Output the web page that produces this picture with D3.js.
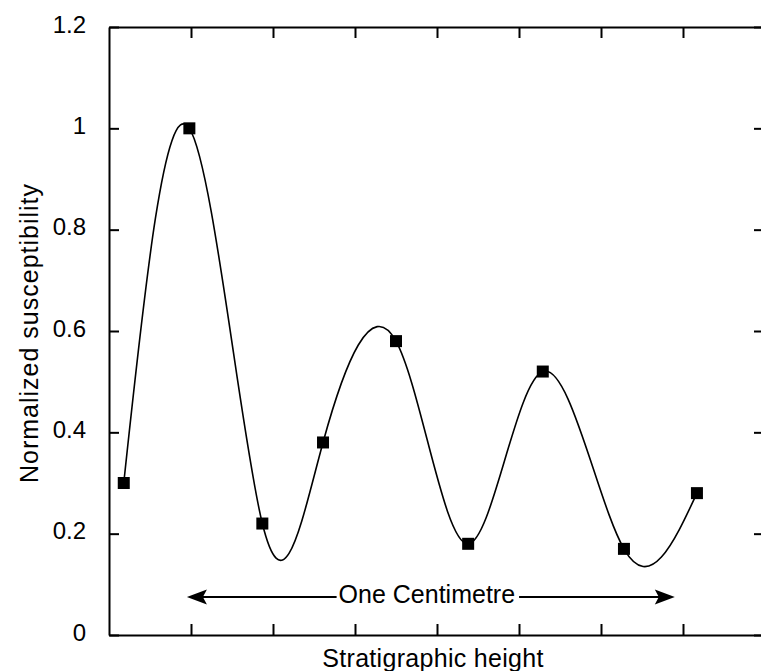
<!DOCTYPE html>
<html>
<head>
<meta charset="utf-8">
<script src="https://cdn.jsdelivr.net/npm/d3@7"></script>
<style>
  body { margin: 0; background: #fff; }
  svg text { font-family: 'Liberation Sans', Arial, sans-serif; fill: #000; }
</style>
</head>
<body>
<div id="chart"></div>
<script>
// values
const heights = [0.18, 0.98, 1.87, 2.61, 3.5, 4.38, 5.29, 6.28, 7.17];
const susceptibility = [0.3, 1.0, 0.22, 0.38, 0.58, 0.18, 0.52, 0.17, 0.28];
const yTickValues = [0, 0.2, 0.4, 0.6, 0.8, 1, 1.2];
const yTickLabels = ['0', '0.2', '0.4', '0.6', '0.8', '1', '1.2'];
const xTickValues = [1, 2, 3, 4, 5, 6, 7];
const scaleBarEnds = [0.95, 6.9];
const scaleBarLevel = 0.075;
const scaleBarLabel = 'One Centimetre';
const xTitle = 'Stratigraphic height';
const yTitle = 'Normalized susceptibility';

// set the dimensions and margins of the graph
const margin = { top: 27, right: 0, bottom: 36, left: 109 };
const width = 656;
const height = 608;

const svg = d3
    .select('#chart')
    .append('svg')
    .attr('width', 761)
    .attr('height', 671)
    .append('g')
    .attr('transform', `translate(${margin.left},${margin.top})`);

const x = d3.scaleLinear().domain([0, 8]).range([0, width]);
const y = d3.scaleLinear().domain([0, 1.2]).range([height, 0]);

// left axis with labels, ticks pointing inward
const leftAxis = svg
    .append('g')
    .call(
        d3.axisLeft(y)
            .tickValues(yTickValues)
            .tickFormat((d, i) => yTickLabels[i])
            .tickSizeInner(-10)
            .tickSizeOuter(0)
            .tickPadding(23)
    );
leftAxis.selectAll('text').attr('dy', '0.21em').style('font-size', '24px');

// right, top and bottom axes: only ticks
svg.append('g')
    .attr('transform', `translate(${width},0)`)
    .call(d3.axisRight(y).tickValues(yTickValues).tickSizeInner(-11).tickSizeOuter(0).tickFormat(''));
svg.append('g')
    .call(d3.axisTop(x).tickValues(xTickValues).tickSizeInner(-11).tickSizeOuter(0).tickFormat(''));
svg.append('g')
    .attr('transform', `translate(0,${height})`)
    .call(d3.axisBottom(x).tickValues(xTickValues).tickSizeInner(-11).tickSizeOuter(0).tickFormat(''));

svg.selectAll('.domain').attr('stroke', '#000').attr('stroke-width', 2);
svg.selectAll('.tick line').attr('stroke', '#000').attr('stroke-width', 2);

// smooth curve through the samples
const data = heights.map((h, i) => ({ h: h, v: susceptibility[i] }));

const curve = d3
    .line()
    .x((d) => x(d.h))
    .y((d) => y(d.v))
    .curve(d3.curveNatural);

svg.append('path')
    .datum(data)
    .attr('fill', 'none')
    .attr('stroke', '#000')
    .attr('stroke-width', 1.6)
    .attr('d', curve);

svg.selectAll('.sample')
    .data(data)
    .enter()
    .append('rect')
    .attr('class', 'sample')
    .attr('x', (d) => x(d.h) - 6)
    .attr('y', (d) => y(d.v) - 6)
    .attr('width', 12)
    .attr('height', 12)
    .attr('fill', '#000');

// scale bar: double arrow with label in the middle
const barY = y(scaleBarLevel);
const barX0 = x(scaleBarEnds[0]);
const barX1 = x(scaleBarEnds[1]);
const barLabel = svg.append('text')
    .attr('x', (barX0 + barX1) / 2 - 4)
    .attr('y', barY + 6)
    .attr('text-anchor', 'middle')
    .style('font-size', '25px')
    .text(scaleBarLabel);
const labelWidth = barLabel.node().getComputedTextLength();
const labelLeft = (barX0 + barX1) / 2 - 4 - labelWidth / 2;

svg.append('line')
    .attr('x1', barX0 + 10).attr('x2', labelLeft - 2)
    .attr('y1', barY).attr('y2', barY)
    .attr('stroke', '#000').attr('stroke-width', 2);
svg.append('line')
    .attr('x1', labelLeft + labelWidth + 4).attr('x2', barX1 - 10)
    .attr('y1', barY).attr('y2', barY)
    .attr('stroke', '#000').attr('stroke-width', 2);

const head = 20;
svg.append('path')
    .attr('d', `M${barX0},${barY} L${barX0 + head},${barY - 7.5} L${barX0 + head - 4},${barY} L${barX0 + head},${barY + 7.5} Z`)
    .attr('fill', '#000');
svg.append('path')
    .attr('d', `M${barX1},${barY} L${barX1 - head},${barY - 7.5} L${barX1 - head + 4},${barY} L${barX1 - head},${barY + 7.5} Z`)
    .attr('fill', '#000');

// axis titles
svg.append('text')
    .attr('x', width / 2 - 4)
    .attr('y', height + 32)
    .attr('text-anchor', 'middle')
    .style('font-size', '25px')
    .style('letter-spacing', '0.3px')
    .text(xTitle);

svg.append('text')
    .attr('transform', 'rotate(-90)')
    .attr('x', -(height / 2 + 2))
    .attr('y', -71)
    .attr('text-anchor', 'middle')
    .style('font-size', '25px')
    .style('letter-spacing', '1px')
    .text(yTitle);
</script>
</body>
</html>
